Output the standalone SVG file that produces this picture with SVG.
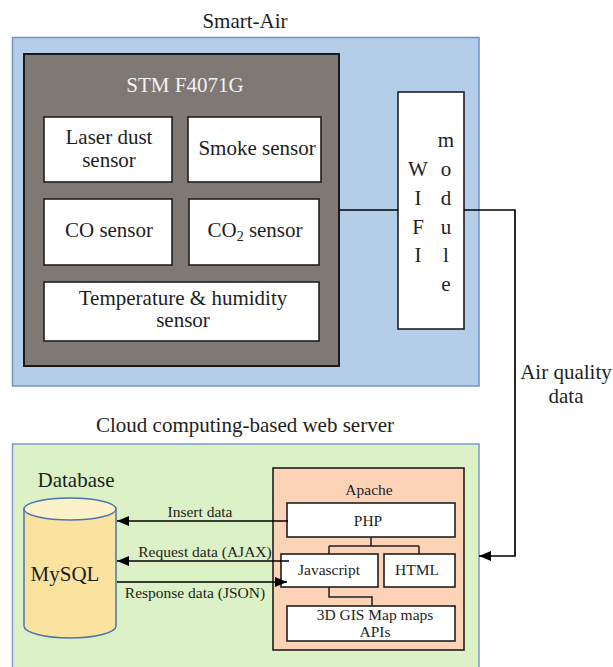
<svg xmlns="http://www.w3.org/2000/svg" width="613" height="667" viewBox="0 0 613 667">
<defs>
<marker id="ah" viewBox="0 0 12 10" refX="12" refY="5" markerWidth="12" markerHeight="10" markerUnits="userSpaceOnUse" orient="auto">
<path d="M0,0 L12,5 L0,10 z" fill="#000"/>
</marker>
<style>
text{font-family:"Liberation Serif","Times New Roman",serif;fill:#1e1e1e}
.big{font-size:21px}
.sm{font-size:15.5px}
.wbox{fill:#fff;stroke:#1e1e1e;stroke-width:1.6}
.conn{fill:none;stroke:#000;stroke-width:1.7}
.thin{fill:none;stroke:#1e1e1e;stroke-width:1.5}
.mid{text-anchor:middle}
</style>
</defs>
<rect width="613" height="667" fill="#fff"/>

<g id="smart-air">
<text class="big mid" x="245" y="28">Smart-Air</text>
<rect x="12.5" y="37.5" width="466.5" height="348.5" fill="#b4cee9" stroke="#7293c4" stroke-width="1.5"/>
</g>

<g id="stm">
<rect x="24" y="54" width="315" height="312" fill="#7e7975" stroke="#1a1a1a" stroke-width="2"/>
<text class="big mid" x="185" y="92" style="fill:#f2f2f2">STM F4071G</text>
</g>

<g id="laser">
<rect class="wbox" x="44" y="117" width="128" height="65"/>
<text class="big mid" x="109" y="144">Laser dust</text>
<text class="big mid" x="109" y="167">sensor</text>
</g>
<g id="smoke">
<rect class="wbox" x="188" y="117" width="133" height="65"/>
<text class="big mid" x="257" y="155">Smoke sensor</text>
</g>
<g id="co">
<rect class="wbox" x="44" y="199" width="128" height="66"/>
<text class="big mid" x="109" y="237">CO sensor</text>
</g>
<g id="co2">
<rect class="wbox" x="189" y="199" width="130" height="66"/>
<text class="big mid" x="255" y="237">CO<tspan font-size="14" dy="4">2</tspan><tspan dy="-4"> sensor</tspan></text>
</g>
<g id="temp">
<rect class="wbox" x="44" y="282" width="275" height="59"/>
<text class="big mid" x="183" y="305">Temperature &amp; humidity</text>
<text class="big mid" x="183" y="327">sensor</text>
</g>

<g id="wifi">
<rect class="wbox" x="398" y="92" width="66" height="237"/>
<text class="big mid" x="446" y="147">m</text>
<text class="big mid" x="418" y="176">W</text>
<text class="big mid" x="446" y="176">o</text>
<text class="big mid" x="418" y="205">I</text>
<text class="big mid" x="446" y="205">d</text>
<text class="big mid" x="418" y="234">F</text>
<text class="big mid" x="446" y="234">u</text>
<text class="big mid" x="418" y="262">I</text>
<text class="big mid" x="446" y="262">l</text>
<text class="big mid" x="446" y="291">e</text>
</g>

<g id="air-label">
<text class="big mid" x="566" y="379">Air quality</text>
<text class="big mid" x="566" y="403">data</text>
</g>

<g id="cloud">
<text class="big mid" x="245" y="432">Cloud computing-based web server</text>
<rect x="12.5" y="444" width="466.5" height="230" fill="#dcf1c5" stroke="#7c9bc8" stroke-width="1.5"/>
</g>

<g id="database">
<text class="big mid" x="76" y="487">Database</text>
<path d="M24,509 L24,626 A46,12 0 0 0 116,626 L116,509" fill="#fbe29e" stroke="#4a76b0" stroke-width="1.5"/>
<ellipse cx="70" cy="509" rx="46" ry="11" fill="#fdf1c9" stroke="#4a76b0" stroke-width="1.5"/>
<text class="big mid" x="65" y="581">MySQL</text>
</g>

<g id="apache">
<rect x="273" y="468" width="191" height="182" fill="#fdd3b8" stroke="#1e1e1e" stroke-width="1.6"/>
<text class="sm mid" x="369" y="495">Apache</text>
</g>
<g id="php">
<rect class="wbox" x="287" y="503" width="168" height="34"/>
<text class="sm mid" x="368" y="526">PHP</text>
</g>
<g id="javascript">
<rect class="wbox" x="281" y="554" width="97" height="33"/>
<text class="sm mid" x="329" y="575">Javascript</text>
</g>
<g id="html">
<rect class="wbox" x="384" y="554" width="71" height="33"/>
<text class="sm mid" x="417" y="575">HTML</text>
</g>
<g id="gis">
<rect class="wbox" x="287" y="606" width="168" height="35"/>
<text class="sm mid" x="375" y="620">3D GIS Map maps</text>
<text class="sm mid" x="375" y="637">APIs</text>
</g>

<g id="connectors">
<path class="conn" d="M339,210 H398"/>
<path class="conn" d="M464,210 H515 V556 H479" marker-end="url(#ah)"/>
<path class="conn" d="M288,521 H117" marker-end="url(#ah)"/>
<path class="conn" d="M289,561 H117" marker-end="url(#ah)"/>
<path class="conn" d="M117,582 H287" marker-end="url(#ah)"/>
<path class="thin" d="M371,537 V546 M329,546 H419 M329,546 V554 M419,546 V554"/>
<path class="thin" d="M329,587 V597 H372 V606"/>
<text class="sm mid" x="200" y="517">Insert data</text>
<text class="sm mid" x="205" y="557">Request data (AJAX)</text>
<text class="sm mid" x="195" y="598">Response data (JSON)</text>
</g>
</svg>
